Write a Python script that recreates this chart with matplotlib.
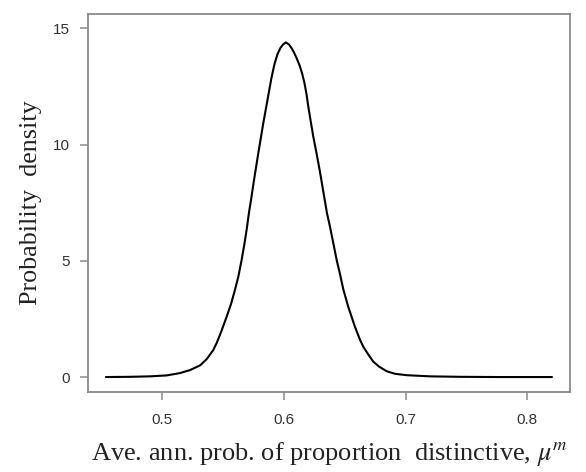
import matplotlib
matplotlib.use("Agg")
import matplotlib.pyplot as plt

# Posterior density of the average annual probability (proportion distinctive)
mu_m = [0.4537, 0.4735, 0.4899, 0.5036, 0.5145, 0.5228, 0.5310, 0.5365, 0.5419,
        0.5447, 0.5482, 0.5529, 0.5565, 0.5597, 0.5626, 0.5652, 0.5675, 0.5694,
        0.5712, 0.5733, 0.5754, 0.5789, 0.5830, 0.5869, 0.5897, 0.5922, 0.5947,
        0.5971, 0.5992, 0.6016, 0.6041, 0.6063, 0.6082, 0.6104, 0.6127, 0.6148,
        0.6168, 0.6185, 0.6200, 0.6220, 0.6241, 0.6267, 0.6296, 0.6325, 0.6353,
        0.6378, 0.6405, 0.6433, 0.6460, 0.6487, 0.6528, 0.6583, 0.6624, 0.6652,
        0.6690, 0.6734, 0.6781, 0.6844, 0.6912, 0.7008, 0.7200, 0.7446, 0.7775,
        0.8202]
density = [0.01, 0.02, 0.04, 0.08, 0.18, 0.31, 0.51, 0.78, 1.17,
           1.47, 1.93, 2.60, 3.15, 3.75, 4.35, 5.04, 5.73, 6.37,
           7.06, 7.75, 8.48, 9.63, 10.92, 12.05, 12.86, 13.46, 13.89,
           14.15, 14.30, 14.39, 14.30, 14.14, 13.96, 13.71, 13.42, 13.08,
           12.65, 12.17, 11.63, 10.99, 10.34, 9.64, 8.82, 7.92, 7.06,
           6.47, 5.77, 5.04, 4.44, 3.79, 3.03, 2.17, 1.62, 1.31,
           1.00, 0.67, 0.46, 0.26, 0.15, 0.09, 0.04, 0.02, 0.01,
           0.01]

x_ticks = [0.5, 0.6, 0.7, 0.8]
y_ticks = [0, 5, 10, 15]

plt.rcParams["mathtext.fontset"] = "stix"

fig = plt.figure(figsize=(5.86, 4.72), dpi=100)
ax = fig.add_axes([0.1502, 0.1701, 0.8225, 0.8002])

ax.plot(mu_m, density, color="black", linewidth=1.5,
        solid_joinstyle="round", solid_capstyle="round")

ax.set_xlim(0.439, 0.835)
ax.set_ylim(-0.62, 15.61)
ax.set_xticks(x_ticks)
ax.set_xticklabels([f"{v:.1f}" for v in x_ticks])
ax.set_yticks(y_ticks)
ax.set_yticklabels([str(v) for v in y_ticks])

for s in ax.spines.values():
    s.set_color("#8a8a8a")
    s.set_linewidth(1.3)

ax.tick_params(axis="both", direction="out", length=6, width=1.1,
               color="#8a8a8a", labelsize=11, labelcolor="#333333")
ax.tick_params(axis="x", pad=9)
ax.tick_params(axis="y", pad=7)
for lab in ax.get_xticklabels() + ax.get_yticklabels():
    lab.set_family("Liberation Sans")

ax.set_xlabel("Ave. ann. prob. of proportion  distinctive, $\\mu^m$",
              family="Liberation Serif", fontsize=19, color="#222222",
              labelpad=10)
ax.set_ylabel("Probability  density", family="Liberation Serif",
              fontsize=18.8, color="#222222", labelpad=8)

fig.savefig("out.png", dpi=100)
